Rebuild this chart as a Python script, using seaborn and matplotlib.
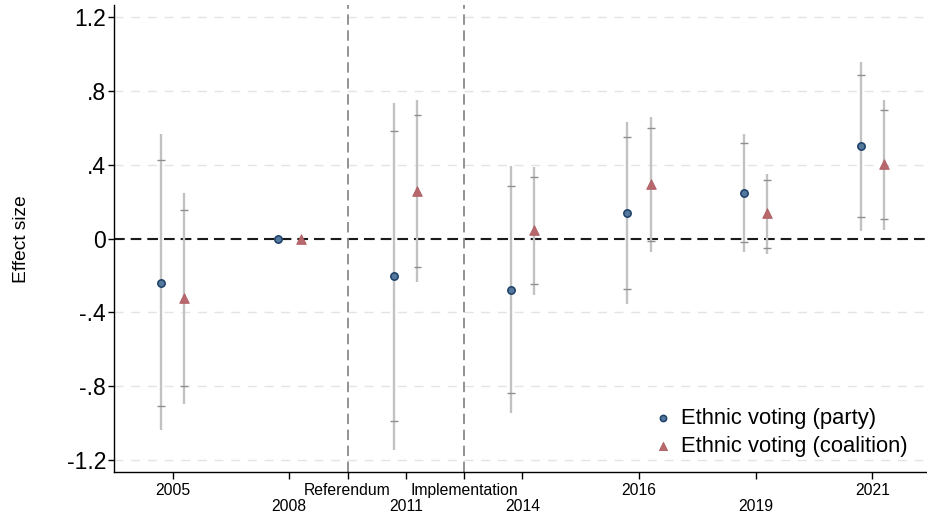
import numpy as np
import pandas as pd
import matplotlib
matplotlib.use("Agg")
import matplotlib.pyplot as plt
import seaborn as sns

# --- data ---
years = ["2005", "2008", "2011", "2014", "2016", "2019", "2021"]
events = ["Referendum", "Implementation"]
event_pos = [2.5, 3.5]  # between 2008/2011 and 2011/2014

party_est = [-0.24, 0.0, -0.205, -0.277, 0.139, 0.248, 0.501]
party_lo95 = [-0.906, np.nan, -0.99, -0.838, -0.273, -0.02, 0.118]
party_hi95 = [0.429, np.nan, 0.583, 0.284, 0.552, 0.516, 0.887]
party_lo99 = [-1.04, np.nan, -1.145, -0.946, -0.355, -0.072, 0.042]
party_hi99 = [0.565, np.nan, 0.737, 0.393, 0.633, 0.565, 0.959]

coal_est = [-0.32, 0.0, 0.26, 0.045, 0.297, 0.137, 0.405]
coal_lo95 = [-0.80, np.nan, -0.156, -0.246, -0.013, -0.05, 0.107]
coal_hi95 = [0.154, np.nan, 0.67, 0.333, 0.599, 0.317, 0.695]
coal_lo99 = [-0.896, np.nan, -0.235, -0.304, -0.071, -0.085, 0.049]
coal_hi99 = [0.248, np.nan, 0.751, 0.387, 0.659, 0.351, 0.751]

yticks = [-1.2, -0.8, -0.4, 0, 0.4, 0.8, 1.2]
ytick_labels = ["-1.2", "-.8", "-.4", "0", ".4", ".8", "1.2"]

sns.set_theme(style="white")
plt.rcParams.update({
    "font.family": ["Liberation Sans", "DejaVu Sans"],
    "lines.scale_dashes": False,
    "text.color": "black",
    "axes.labelcolor": "black",
    "xtick.color": "black",
    "ytick.color": "black",
})

pos = np.arange(1, len(years) + 1)
offset = 0.1
df = pd.DataFrame({
    "pos": np.concatenate([pos - offset, pos + offset]),
    "est": party_est + coal_est,
    "lo95": party_lo95 + coal_lo95,
    "hi95": party_hi95 + coal_hi95,
    "lo99": party_lo99 + coal_lo99,
    "hi99": party_hi99 + coal_hi99,
    "series": ["party"] * len(years) + ["coalition"] * len(years),
})

fig = plt.figure(figsize=(9.28, 5.19), dpi=100)
ax = fig.add_axes([0.1232, 0.09, 0.877, 0.9004])

ax.set_xlim(0.5, 7.48)
ax.set_ylim(-1.267, 1.267)

# gridlines + reference lines
ax.set_yticks(yticks)
ax.set_yticklabels(ytick_labels)
ax.grid(axis="y", color="#e4e4e4", lw=1.0, ls=(0, (6.5, 5.5)))
ax.grid(axis="x", visible=False)
ax.axhline(0, color="#1a1a1a", lw=1.5, ls=(0, (7.7, 4.3)), zorder=2)
for p in event_pos:
    ax.axvline(p, color="#8a8a8a", lw=1.3, ls=(0, (7.5, 4)), zorder=2)

# confidence intervals
ci = df.dropna()
ax.vlines(ci["pos"], ci["lo99"], ci["hi99"], color="#c2c2c2", lw=1.7, zorder=3)
cap = 0.034
for col in ["lo95", "hi95"]:
    ax.hlines(ci[col], ci["pos"] - cap, ci["pos"] + cap, color="#8f8f8f", lw=1.0, zorder=3)

# point estimates
party = df[df["series"] == "party"]
coal = df[df["series"] == "coalition"]
sns.scatterplot(data=party, x="pos", y="est", marker="o", s=28, color="#55799e",
                edgecolor="#1b3f66", linewidth=1.1, label="Ethnic voting (party)",
                ax=ax, zorder=5)
sns.scatterplot(data=coal, x="pos", y="est", marker="^", s=48, color="#b8686d",
                edgecolor="#ad5c62", linewidth=0.6, label="Ethnic voting (coalition)",
                ax=ax, zorder=5)

# x axis with alternating labels: top row on major ticks, bottom row on minor ticks
tick_pos = list(pos) + event_pos
tick_lab = years + events
tick_pos, tick_lab = zip(*sorted(zip(tick_pos, tick_lab)))
ax.set_xticks(tick_pos[0::2])
ax.set_xticklabels(tick_lab[0::2], fontsize=11.3)
ax.set_xticks(tick_pos[1::2], minor=True)
ax.set_xticklabels(tick_lab[1::2], minor=True, fontsize=11.3)
ax.tick_params(axis="x", which="major", length=5, width=1, pad=3, bottom=True)
ax.tick_params(axis="x", which="minor", length=5, width=1, pad=14.5, bottom=True)
ax.tick_params(axis="y", length=4, width=1, labelsize=16.5, pad=2, left=True)
ax.set_xlabel("")
ax.set_ylabel("Effect size", fontsize=13.8)
ax.yaxis.set_label_coords(-0.104, 0.5)

for s in ["top", "right"]:
    ax.spines[s].set_visible(False)
for s in ["left", "bottom"]:
    ax.spines[s].set_color("black")
    ax.spines[s].set_linewidth(1.0)

ax.legend(loc="lower right", bbox_to_anchor=(0.985, 0.015), frameon=False,
          fontsize=15.8, handletextpad=0.2, markerscale=0.85, borderaxespad=0,
          labelspacing=0.3, handlelength=1.2)

fig.savefig("out.png", dpi=100)
